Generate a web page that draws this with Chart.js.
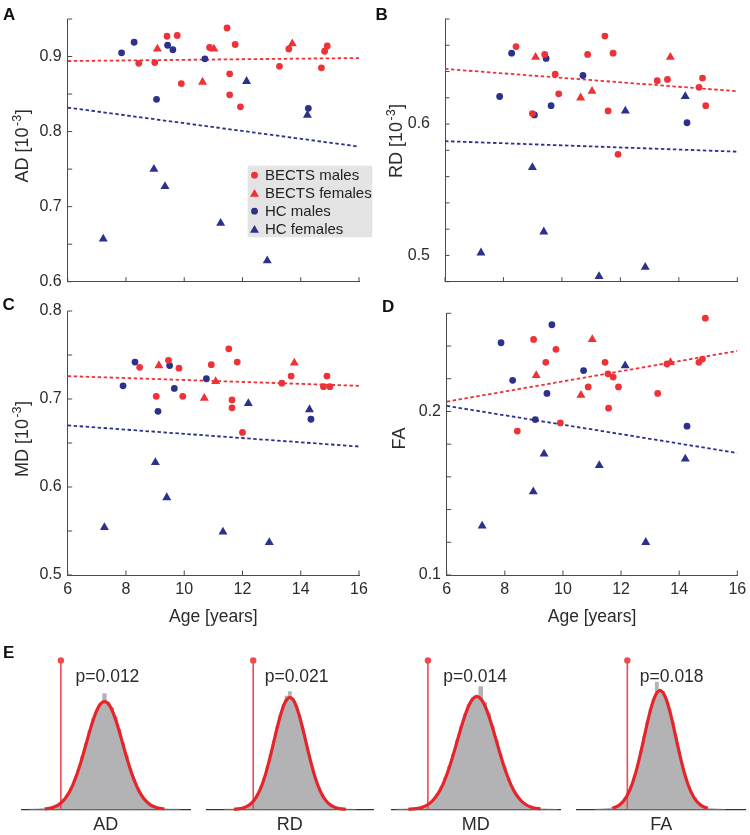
<!DOCTYPE html>
<html>
<head>
<meta charset="utf-8">
<title>BECTS vs HC diffusion metrics</title>
<script src="https://cdn.jsdelivr.net/npm/chart.js@4.4.1/dist/chart.umd.min.js"></script>
<style>
  html, body { margin:0; padding:0; background:#ffffff; width:750px; height:835px; overflow:hidden; position:relative; }
  canvas { position:absolute; }
  .panel { position:absolute; font-family:"Liberation Sans", Arial, Helvetica, sans-serif; font-weight:bold; font-size:17px; line-height:17px; color:#111; }
</style>
</head>
<body>
<canvas id="cA" width="375" height="292" style="left:0px;top:0px"></canvas>
<canvas id="cB" width="375" height="292" style="left:375px;top:0px"></canvas>
<canvas id="cC" width="375" height="345" style="left:0px;top:290px"></canvas>
<canvas id="cD" width="375" height="345" style="left:375px;top:290px"></canvas>
<canvas id="e1" width="200" height="196" style="left:0px;top:640px"></canvas>
<canvas id="e2" width="190" height="196" style="left:195px;top:640px"></canvas>
<canvas id="e3" width="190" height="196" style="left:380px;top:640px"></canvas>
<canvas id="e4" width="185" height="196" style="left:565px;top:640px"></canvas>
<div class="panel" style="left:3px;top:6px">A</div>
<div class="panel" style="left:375.5px;top:6px">B</div>
<div class="panel" style="left:2.5px;top:296px">C</div>
<div class="panel" style="left:382px;top:297.5px">D</div>
<div class="panel" style="left:3px;top:644px">E</div>
<script>
// ---------------- DATA ----------------
const ageTicks = [6, 8, 10, 12, 14, 16];
const fitAges = [6, 16];

// AD
const AD_bectsMales = [[8.44,0.891],[8.99,0.892],[9.41,0.927],[9.76,0.928],[9.90,0.864],[10.87,0.912],[11.47,0.938],[11.56,0.877],[11.56,0.849],[11.75,0.916],[11.93,0.833],[13.27,0.887],[13.59,0.910],[14.71,0.885],[14.82,0.907],[14.91,0.914]];
const AD_bectsFemales = [[9.08,0.910],[10.63,0.866],[11.02,0.910],[13.71,0.917]];
const AD_hcMales = [[7.85,0.905],[8.28,0.919],[9.43,0.915],[9.61,0.909],[9.05,0.843],[10.71,0.897],[14.26,0.831]];
const AD_hcFemales = [[7.22,0.657],[8.96,0.750],[9.34,0.727],[11.25,0.678],[12.14,0.867],[12.85,0.628],[14.23,0.822]];
const AD_fitBECTS = [0.894, 0.898];
const AD_fitHC = [0.832, 0.780];
const AD_ticks = [0.6, 0.65, 0.7, 0.75, 0.8, 0.85, 0.9, 0.95];
const AD_tickLabels = ['0.6', '', '0.7', '', '0.8', '', '0.9', ''];

// RD
const RD_bectsMales = [[8.43,0.659],[8.99,0.608],[9.41,0.653],[9.77,0.638],[9.89,0.623],[10.88,0.653],[11.47,0.667],[11.58,0.610],[11.75,0.654],[11.92,0.577],[13.26,0.633],[13.61,0.634],[14.69,0.628],[14.81,0.635],[14.92,0.614]];
const RD_bectsFemales = [[9.10,0.651],[10.64,0.620],[11.03,0.625],[13.71,0.651]];
const RD_hcMales = [[7.87,0.621],[8.28,0.654],[9.06,0.607],[9.46,0.650],[9.63,0.614],[10.72,0.637],[14.28,0.601]];
const RD_hcFemales = [[7.23,0.502],[8.99,0.567],[9.38,0.518],[11.27,0.484],[12.17,0.610],[12.85,0.491],[14.22,0.621]];
const RD_fitBECTS = [0.642, 0.625];
const RD_fitHC = [0.587, 0.579];
const RD_ticks = [0.48, 0.50, 0.52, 0.54, 0.56, 0.58, 0.60, 0.62, 0.64, 0.66, 0.68];
const RD_tickLabels = ['', '0.5', '', '', '', '', '0.6', '', '', '', ''];

// MD
const MD_bectsMales = [[8.47,0.736],[9.04,0.703],[9.46,0.744],[9.82,0.735],[9.95,0.703],[10.93,0.739],[11.53,0.757],[11.64,0.699],[11.64,0.690],[11.82,0.742],[12.00,0.662],[13.35,0.718],[13.67,0.726],[14.78,0.714],[14.90,0.726],[15.00,0.714]];
const MD_bectsFemales = [[9.13,0.738],[10.69,0.701],[11.08,0.720],[13.78,0.741]];
const MD_hcMales = [[7.90,0.715],[8.31,0.742],[9.10,0.686],[9.50,0.738],[9.66,0.712],[10.76,0.723],[14.35,0.677]];
const MD_hcFemales = [[7.26,0.554],[9.01,0.628],[9.40,0.588],[11.33,0.549],[12.20,0.695],[12.92,0.537],[14.30,0.688]];
const MD_fitBECTS = [0.726, 0.715];
const MD_fitHC = [0.670, 0.646];
const MD_ticks = [0.5, 0.55, 0.6, 0.65, 0.7, 0.75, 0.8];
const MD_tickLabels = ['0.5', '', '0.6', '', '0.7', '', '0.8'];

// FA
const FA_bectsMales = [[8.43,0.188],[8.99,0.244],[9.41,0.230],[9.76,0.238],[9.91,0.193],[10.87,0.215],[11.45,0.230],[11.55,0.223],[11.57,0.202],[11.73,0.221],[11.91,0.215],[13.26,0.211],[13.58,0.229],[14.68,0.230],[14.80,0.232],[14.90,0.257]];
const FA_bectsFemales = [[9.08,0.222],[10.62,0.210],[11.01,0.244],[13.70,0.230]];
const FA_hcMales = [[7.87,0.242],[8.27,0.219],[9.05,0.195],[9.45,0.211],[9.62,0.253],[10.71,0.225],[14.27,0.191]];
const FA_hcFemales = [[7.22,0.130],[8.98,0.151],[9.35,0.174],[11.25,0.167],[12.14,0.228],[12.85,0.120],[14.21,0.171]];
const FA_fitBECTS = [0.206, 0.237];
const FA_fitHC = [0.2034, 0.1746];
const FA_ticks = [0.10, 0.12, 0.14, 0.16, 0.18, 0.20, 0.22, 0.24, 0.26];
const FA_tickLabels = ['0.1', '', '', '', '', '0.2', '', '', ''];

// E: permutation null distributions (standardised statistic)
const measureNames = ['AD', 'RD', 'MD', 'FA'];
const pValues = ['p=0.012', 'p=0.021', 'p=0.014', 'p=0.018'];
const observedZ = [-2.37, -2.29, -2.50, -2.06];
const observedStemHeight = 149;
const nullRanges = [[-4.5, 4.65], [-5.2, 5.2], [-4.35, 4.25], [-5.25, 5.4]];
const binZ = [-4.0,-3.8,-3.6,-3.4,-3.2,-3.0,-2.8,-2.6,-2.4,-2.2,-2.0,-1.8,-1.6,-1.4,-1.2,-1.0,-0.8,-0.6,-0.4,-0.2,0.0,0.2,0.4,0.6,0.8,1.0,1.2,1.4,1.6,1.8,2.0,2.2,2.4,2.6,2.8,3.0,3.2,3.4,3.6,3.8,4.0];
const histAD = [0.3,0.4,0.6,0.8,1.0,1.6,2.4,3.9,6.3,9.9,14.8,21.6,30.5,40.2,53.0,65.8,78.9,90.8,99.5,106.2,116.0,107.5,101.8,92.5,80.1,66.4,53.7,41.0,30.2,21.4,14.5,9.4,6.0,3.7,2.2,1.3,0.9,0.7,0.5,0.4,0.3];
const histRD = [0.3,0.4,0.5,0.7,1.1,1.7,2.6,4.2,6.6,10.3,15.6,22.8,31.8,42.5,55.1,68.4,81.9,94.5,104.8,113.5,118.0,111.2,103.9,93.0,80.6,67.2,54.0,41.6,30.9,22.0,15.0,9.8,6.2,3.8,2.3,1.3,0.8,0.6,0.4,0.3,0.2];
const histMD = [0.3,0.4,0.6,0.8,1.2,1.8,2.7,4.2,6.6,10.4,15.5,22.7,31.9,42.8,55.4,69.0,82.7,95.0,105.2,111.4,114.5,123.0,106.8,96.5,83.2,69.3,55.6,42.9,31.6,22.5,15.3,10.0,6.4,3.9,2.3,1.3,0.8,0.6,0.4,0.3,0.2];
const histFA = [0.3,0.4,0.6,0.8,1.2,1.8,2.8,4.4,7.0,10.9,16.4,24.0,33.6,45.1,58.3,72.8,87.0,100.0,110.5,127.5,120.5,118.0,111.0,100.5,87.3,72.6,58.2,44.8,33.2,23.7,16.1,10.6,6.7,4.1,2.4,1.4,0.8,0.6,0.4,0.3,0.2];
const curveZ = [-3.5,-3.25,-3.0,-2.75,-2.5,-2.25,-2.0,-1.75,-1.5,-1.25,-1.0,-0.75,-0.5,-0.25,0,0.25,0.5,0.75,1.0,1.25,1.5,1.75,2.0,2.25,2.5,2.75,3.0,3.25,3.5];
const fitAD = [null,0.55,1.2,2.5,4.7,8.6,14.6,23.4,35.1,49.4,65.5,81.5,95.3,104.7,108,104.7,95.3,81.5,65.5,49.4,35.1,23.4,14.6,8.6,4.7,2.5,1.2,0.55,null];
const fitRD = [0.25,0.6,1.2,2.6,4.9,8.9,15.2,24.2,36.4,51.3,67.9,84.5,98.8,108.6,112,108.6,98.8,84.5,67.9,51.3,36.4,24.2,15.2,8.9,4.9,2.6,1.2,0.6,0.25];
const fitMD = [0.25,0.6,1.25,2.6,5.0,9.0,15.3,24.4,36.7,51.7,68.5,85.3,99.7,109.5,113,109.5,99.7,85.3,68.5,51.7,36.7,24.4,15.3,9.0,5.0,2.6,1.25,0.6,null];
const fitFA = [null,null,1.3,2.7,5.2,9.5,16.1,25.7,38.6,54.5,72.2,89.8,105,115.3,119,115.3,105,89.8,72.2,54.5,38.6,25.7,16.1,9.5,5.2,2.7,1.3,null,null];
const nullHists = [histAD, histRD, histMD, histFA];
const nullFits = [fitAD, fitRD, fitMD, fitFA];

// ---------------- STYLE ----------------
const FONT = '"Liberation Sans", Arial, Helvetica, sans-serif';
const RED = '#ed3338';
const BLUE = '#2c328c';
const AXIS = '#4a4a4a';
const TXT = '#2b2b2b';
const LEGEND_BG = '#e4e4e4';
const HIST_GRAY = '#b3b3b5';
const CURVE_RED = '#e6252b';
const OBS_RED = '#ef4a4e';

function tri(ctx, x, y, r) {
  ctx.beginPath();
  for (let k = 0; k < 3; k++) {
    const a = k * 2 * Math.PI / 3;
    const px = x + Math.sin(a) * r, py = y - Math.cos(a) * r;
    if (k) ctx.lineTo(px, py); else ctx.moveTo(px, py);
  }
  ctx.closePath();
  ctx.fill();
}

const inTicks = {
  id: 'inTicks',
  afterDraw(chart) {
    const {ctx, chartArea: a, scales: {x, y}} = chart;
    ctx.save();
    ctx.strokeStyle = AXIS; ctx.lineWidth = 1;
    ctx.beginPath();
    x.ticks.forEach(t => { const px = x.getPixelForValue(t.value); ctx.moveTo(px, a.bottom); ctx.lineTo(px, a.bottom - 4.5); });
    y.ticks.forEach(t => { const py = y.getPixelForValue(t.value); ctx.moveTo(a.left, py); ctx.lineTo(a.left + 4.5, py); });
    ctx.stroke();
    ctx.restore();
  }
};

function titlePlugin(parts, dx, dy) {
  return {
    id: 'supTitle',
    afterDraw(chart) {
      const {ctx, chartArea: a} = chart;
      const cx = a.left - dx, cy = (a.top + a.bottom) / 2 + dy;
      ctx.save();
      ctx.translate(cx, cy);
      ctx.rotate(-Math.PI / 2);
      ctx.fillStyle = TXT;
      ctx.textBaseline = 'alphabetic';
      ctx.textAlign = 'left';
      const widths = parts.map(pt => { ctx.font = pt.size + 'px ' + FONT; return ctx.measureText(pt.text).width + (pt.gap || 0); });
      const total = widths.reduce((s, w) => s + w, 0);
      let x = -total / 2;
      const base = 0.36 * 18;
      parts.forEach((pt, i) => {
        ctx.font = pt.size + 'px ' + FONT;
        ctx.fillText(pt.text, x + (pt.gap || 0), base - (pt.rise || 0));
        x += widths[i];
      });
      ctx.restore();
    }
  };
}

function legendPlugin(box) {
  return {
    id: 'boxLegend',
    afterDraw(chart) {
      const ctx = chart.ctx;
      ctx.save();
      ctx.fillStyle = LEGEND_BG;
      ctx.fillRect(box.x, box.y, box.w, box.h);
      ctx.font = '15px ' + FONT; ctx.textBaseline = 'middle'; ctx.textAlign = 'left';
      chart.data.datasets.slice(0, 4).forEach((ds, i) => {
        const cy = box.y + box.first + i * box.step;
        ctx.fillStyle = ds.backgroundColor;
        if (ds.pointStyle === 'triangle') tri(ctx, box.mx, cy + 1, ds.pointRadius);
        else { ctx.beginPath(); ctx.arc(box.mx, cy, ds.pointRadius, 0, 2 * Math.PI); ctx.fill(); }
        ctx.fillStyle = '#222';
        ctx.fillText(ds.label, box.tx, cy + 0.5);
      });
      ctx.restore();
    }
  };
}

function scatterChart(p) {
  const pts = arr => arr.map(d => ({x: d[0], y: d[1]}));
  const group = (label, arr, color, style) => ({
    label, data: pts(arr), pointStyle: style, pointRadius: style === 'triangle' ? 5.2 : 3.4,
    backgroundColor: color, borderColor: color, borderWidth: 0, clip: false, order: 0
  });
  const fit = (arr, color) => ({
    label: 'fit', data: fitAges.map((a, i) => ({x: a, y: arr[i]})), showLine: true,
    borderColor: color, borderWidth: 1.8, borderDash: [3.5, 2.5], pointRadius: 0, order: 5
  });
  const plugins = [inTicks, titlePlugin(p.title, p.tdx, p.tdy)];
  if (p.legend) plugins.push(legendPlugin(p.legend));
  return new Chart(document.getElementById(p.id), {
    type: 'scatter',
    data: { datasets: [
      group('BECTS males', p.bm, RED, 'circle'),
      group('BECTS females', p.bf, RED, 'triangle'),
      group('HC males', p.hm, BLUE, 'circle'),
      group('HC females', p.hf, BLUE, 'triangle'),
      fit(p.fitR, RED), fit(p.fitB, BLUE)
    ]},
    options: {
      responsive: false, animation: false, devicePixelRatio: 1,
      layout: { padding: p.pad },
      plugins: { legend: {display: false}, tooltip: {enabled: false} },
      scales: {
        x: {
          type: 'linear', min: 6, max: 16,
          afterBuildTicks: s => { s.ticks = ageTicks.map(v => ({value: v})); },
          ticks: { display: p.xLabels, autoSkip: false, maxRotation: 0, font: {family: FONT, size: 16}, color: TXT, padding: 5.4, callback: v => String(v) },
          grid: { display: false, drawTicks: false },
          border: { display: true, color: AXIS, width: 1 },
          title: { display: p.xLabels, text: 'Age [years]', font: {family: FONT, size: 17.5}, color: TXT, padding: {top: 0, bottom: 2.5} },
          afterFit: s => { s.height = p.xH; s.paddingLeft = 0; s.paddingRight = 0; }
        },
        y: {
          type: 'linear', min: p.yMin, max: p.yMax,
          afterBuildTicks: s => { s.ticks = p.yTicks.map(v => ({value: v})); },
          ticks: { autoSkip: false, font: {family: FONT, size: 16}, color: TXT, padding: p.tickPad, callback: (v, i) => p.yLabels[i] },
          grid: { display: false, drawTicks: false },
          border: { display: true, color: AXIS, width: 1 },
          afterFit: s => { s.width = p.yW; s.paddingTop = 0; s.paddingBottom = 0; }
        }
      }
    },
    plugins
  });
}

const supParts = name => [{text: name + ' [10', size: 18}, {text: '-3', size: 12.5, rise: 7, gap: 1.5}, {text: ']', size: 18, gap: 0.5}];

scatterChart({ id: 'cA', title: supParts('AD'), tdx: 45.7, tdy: -4.5,
  bm: AD_bectsMales, bf: AD_bectsFemales, hm: AD_hcMales, hf: AD_hcFemales, fitR: AD_fitBECTS, fitB: AD_fitHC,
  yMin: 0.6, yMax: 0.95, yTicks: AD_ticks, yLabels: AD_tickLabels, xLabels: false,
  pad: {left: 0, right: 16, top: 19, bottom: 10.3}, yW: 67.7, xH: 0, tickPad: 6,
  legend: {x: 247.7, y: 165.7, w: 124.6, h: 71.6, first: 9.5, step: 18, mx: 254.5, tx: 265} });

scatterChart({ id: 'cB', title: supParts('RD'), tdx: 49.5, tdy: -9.4,
  bm: RD_bectsMales, bf: RD_bectsFemales, hm: RD_hcMales, hf: RD_hcFemales, fitR: RD_fitBECTS, fitB: RD_fitHC,
  yMin: 0.48, yMax: 0.68, yTicks: RD_ticks, yLabels: RD_tickLabels, xLabels: false,
  pad: {left: 0, right: 12.7, top: 19, bottom: 10.3}, yW: 70, xH: 0, tickPad: 15 });

scatterChart({ id: 'cC', title: supParts('MD'), tdx: 46, tdy: -4,
  bm: MD_bectsMales, bf: MD_bectsFemales, hm: MD_hcMales, hf: MD_hcFemales, fitR: MD_fitBECTS, fitB: MD_fitHC,
  yMin: 0.5, yMax: 0.8, yTicks: MD_ticks, yLabels: MD_tickLabels, xLabels: true,
  pad: {left: 0, right: 16, top: 21, bottom: 5}, yW: 67.7, xH: 55, tickPad: 6 });

scatterChart({ id: 'cD', title: [{text: 'FA', size: 18}], tdx: 47.7, tdy: -5.7,
  bm: FA_bectsMales, bf: FA_bectsFemales, hm: FA_hcMales, hf: FA_hcFemales, fitR: FA_fitBECTS, fitB: FA_fitHC,
  yMin: 0.1, yMax: 0.26, yTicks: FA_ticks, yLabels: FA_tickLabels, xLabels: true,
  pad: {left: 0, right: 12.7, top: 23.3, bottom: 5}, yW: 71.7, xH: 55, tickPad: 5.7 });

// ---------------- E: null distributions ----------------
function pLabelPlugin(text, dx, y) {
  return {
    id: 'pLabel',
    afterDraw(chart) {
      const ctx = chart.ctx, xs = chart.scales.x;
      ctx.save();
      ctx.font = '17.5px ' + FONT; ctx.fillStyle = TXT;
      ctx.textAlign = 'center'; ctx.textBaseline = 'middle';
      ctx.fillText(text, xs.getPixelForValue(0) + dx, y);
      ctx.restore();
    }
  };
}

const histLayout = [
  {id: 'e1', padL: 21.7, padR: 10, pdx: 3},
  {id: 'e2', padL: 11.7, padR: 12, pdx: 6.7},
  {id: 'e3', padL: 11.7, padR: 10, pdx: -1.7},
  {id: 'e4', padL: 11.7, padR: 4.3, pdx: 11.7}
];

histLayout.forEach((L, i) => {
  new Chart(document.getElementById(L.id), {
    type: 'bar',
    data: { datasets: [
      { type: 'line', data: curveZ.map((z, k) => ({x: z, y: nullFits[i][k]})).filter(d => d.y !== null),
        borderColor: CURVE_RED, borderWidth: 3.2, pointRadius: 0, cubicInterpolationMode: 'monotone', order: 1, clip: false },
      { type: 'line', data: [{x: observedZ[i], y: 0}, {x: observedZ[i], y: observedStemHeight}],
        borderColor: OBS_RED, borderWidth: 1.6, pointRadius: [0, 3.2], pointBackgroundColor: OBS_RED, pointBorderWidth: 0, order: 2, clip: false },
      { type: 'bar', data: binZ.map((z, k) => ({x: z, y: nullHists[i][k]})),
        backgroundColor: HIST_GRAY, borderWidth: 0, barPercentage: 1, categoryPercentage: 1, order: 3 }
    ]},
    options: {
      responsive: false, animation: false, devicePixelRatio: 1,
      layout: { padding: {left: L.padL, right: L.padR, top: 14.5, bottom: 0.5} },
      plugins: { legend: {display: false}, tooltip: {enabled: false} },
      scales: {
        x: {
          type: 'linear', min: nullRanges[i][0], max: nullRanges[i][1], offset: false,
          ticks: { display: false },
          grid: { display: false, drawTicks: false },
          border: { display: true, color: '#333', width: 1.3 },
          title: { display: true, text: measureNames[i], font: {family: FONT, size: 18}, color: TXT, padding: {top: 0, bottom: 0} },
          afterFit: s => { s.height = 26; s.paddingLeft = 0; s.paddingRight = 0; }
        },
        y: { type: 'linear', min: 0, max: 155, display: false }
      }
    },
    plugins: [pLabelPlugin(pValues[i], L.pdx, 36.7)]
  });
});
</script>
</body>
</html>
